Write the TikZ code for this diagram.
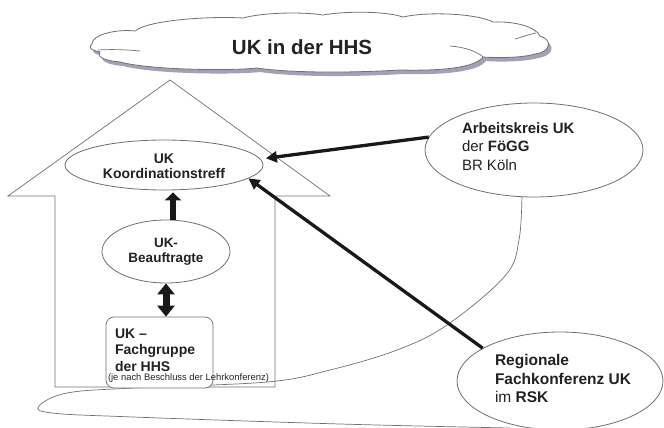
\documentclass[tikz,border=0pt]{standalone}
\usepackage{fontspec}
\setmainfont{Liberation Sans}
\usetikzlibrary{shapes.geometric,arrows.meta}
\definecolor{lg}{HTML}{707070}
\definecolor{shc}{HTML}{A3A1B8}
\definecolor{tc}{HTML}{222222}
\tikzset{
  outl/.style={draw=lg, line width=0.8pt},
  ell/.style={ellipse, outl, fill=white, inner sep=0pt},
  txt/.style={text=tc, inner sep=0pt, outer sep=0pt},
  thin arrow/.style={line width=3.3pt, black!90, -{Triangle[length=11pt,width=11pt]}},
  fat arrow/.style={line width=6.5pt, black!90, -{Triangle[length=8pt,width=16pt]}},
  fat double/.style={line width=7pt, black!90, {Triangle[length=11pt,width=17pt]}-{Triangle[length=11pt,width=17pt]}},
  cloudpath/.style={insert path={
    (92,44) .. controls (92,34) and (118,29) .. (135,31)
    .. controls (148,20) and (210,16) .. (243,18)
    .. controls (265,12) and (305,12) .. (323,15)
    .. controls (345,11) and (385,11) .. (403,17)
    .. controls (430,11) and (478,14) .. (493,22)
    .. controls (515,21) and (536,27) .. (540,36)
    .. controls (553,40) and (551,52) .. (535,54)
    .. controls (522,58) and (495,58) .. (483,57)
    .. controls (475,68) and (440,71) .. (400,70)
    .. controls (350,73) and (290,73) .. (257,68)
    .. controls (230,71) and (150,70) .. (120,62)
    .. controls (108,61) and (96,58) .. (100,52)
    .. controls (90,50) and (88,47) .. (92,44) -- cycle}}
}
\begin{document}
\begin{tikzpicture}[x=1pt,y=-1pt]
\useasboundingbox (0,0) rectangle (664,428);
\clip (0,0) rectangle (664,428);
% cloud
\fill[shc, shift={(3,4)}, cloudpath];
\path[outl, fill=white, cloudpath];
\draw[lg, line width=0.7pt] (98,50) .. controls (115,49) and (130,50) .. (140,51);
\draw[lg, line width=0.7pt] (450,46) .. controls (465,47) and (478,52) .. (483,57);
\draw[lg, line width=0.7pt] (515,39) .. controls (522,37) and (530,34) .. (536,33);
\node[txt, anchor=base, font=\fontsize{20.5}{24}\selectfont\bfseries] (title) at (302,54.5) {UK in der HHS};
% house
\draw[outl, line width=0.7pt] (55,387) -- (55,196) -- (8,196) -- (170,80) -- (330,196) -- (275,196) -- (275,387) -- cycle;
% lasso curve
\draw[outl, line width=0.7pt] plot[smooth, tension=0.6] coordinates {(522,192) (519,240) (505,276) (447,325) (397,350) (330,370) (267,382) (133,388) (67,393) (39,406) (52,413) (133,417) (340,424) (510,428)};
% nodes
\node[ell, minimum width=198pt, minimum height=50pt] (koord) at (164,165) {};
\node[ell, minimum width=128pt, minimum height=63pt] (beauf) at (166,251.5) {};
\node[rectangle, rounded corners=8pt, outl, line width=0.7pt, fill=white, minimum width=107pt, minimum height=71pt, inner sep=0pt] (fg) at (159.5,352.5) {};
\node[ell, minimum width=218pt, minimum height=94pt] (ak) at (534,150) {};
\node[ell, minimum width=206pt, minimum height=98pt] (rsk) at (560,381) {};
% texts (base anchor = baseline of last line)
\node[txt, anchor=base, align=center, font=\fontsize{14}{15}\selectfont\bfseries] (koordt) at (164,178) {UK\\Koordinationstreff};
\node[txt, anchor=base, align=center, font=\fontsize{13.5}{15}\selectfont\bfseries] (beauft) at (166,262) {UK-\\Beauftragte};
\node[txt, anchor=base west, align=left, font=\fontsize{14}{16.5}\selectfont\bfseries] (fgt) at (115,371) {UK --\\Fachgruppe\\der HHS};
\node[txt, anchor=base west, font=\fontsize{9.4}{11}\selectfont] (fgs) at (108,380.5) {(je nach Beschluss der Lehrkonferenz)};
\node[txt, anchor=base west, align=left, font=\fontsize{15}{18.5}\selectfont] (akt) at (462,170.4) {\textbf{Arbeitskreis UK}\\der \textbf{FöGG}\\BR Köln};
\node[txt, anchor=base west, align=left, font=\fontsize{15.5}{18.5}\selectfont] (rskt) at (495,402.5) {\textbf{Regionale}\\\textbf{Fachkonferenz UK}\\im \textbf{RSK}};
% arrows
\draw[fat arrow] ([xshift=7pt]beauf.north) -- ([xshift=9pt,yshift=-2pt]koord.south);
\draw[fat double] (beauf.south) -- (beauf.south |- fg.north);
\draw[thin arrow] (ak.173) -- ([xshift=6pt]koord.4);
\draw[thin arrow] (rsk.157) -- (koord.-9);
\end{tikzpicture}
\end{document}
